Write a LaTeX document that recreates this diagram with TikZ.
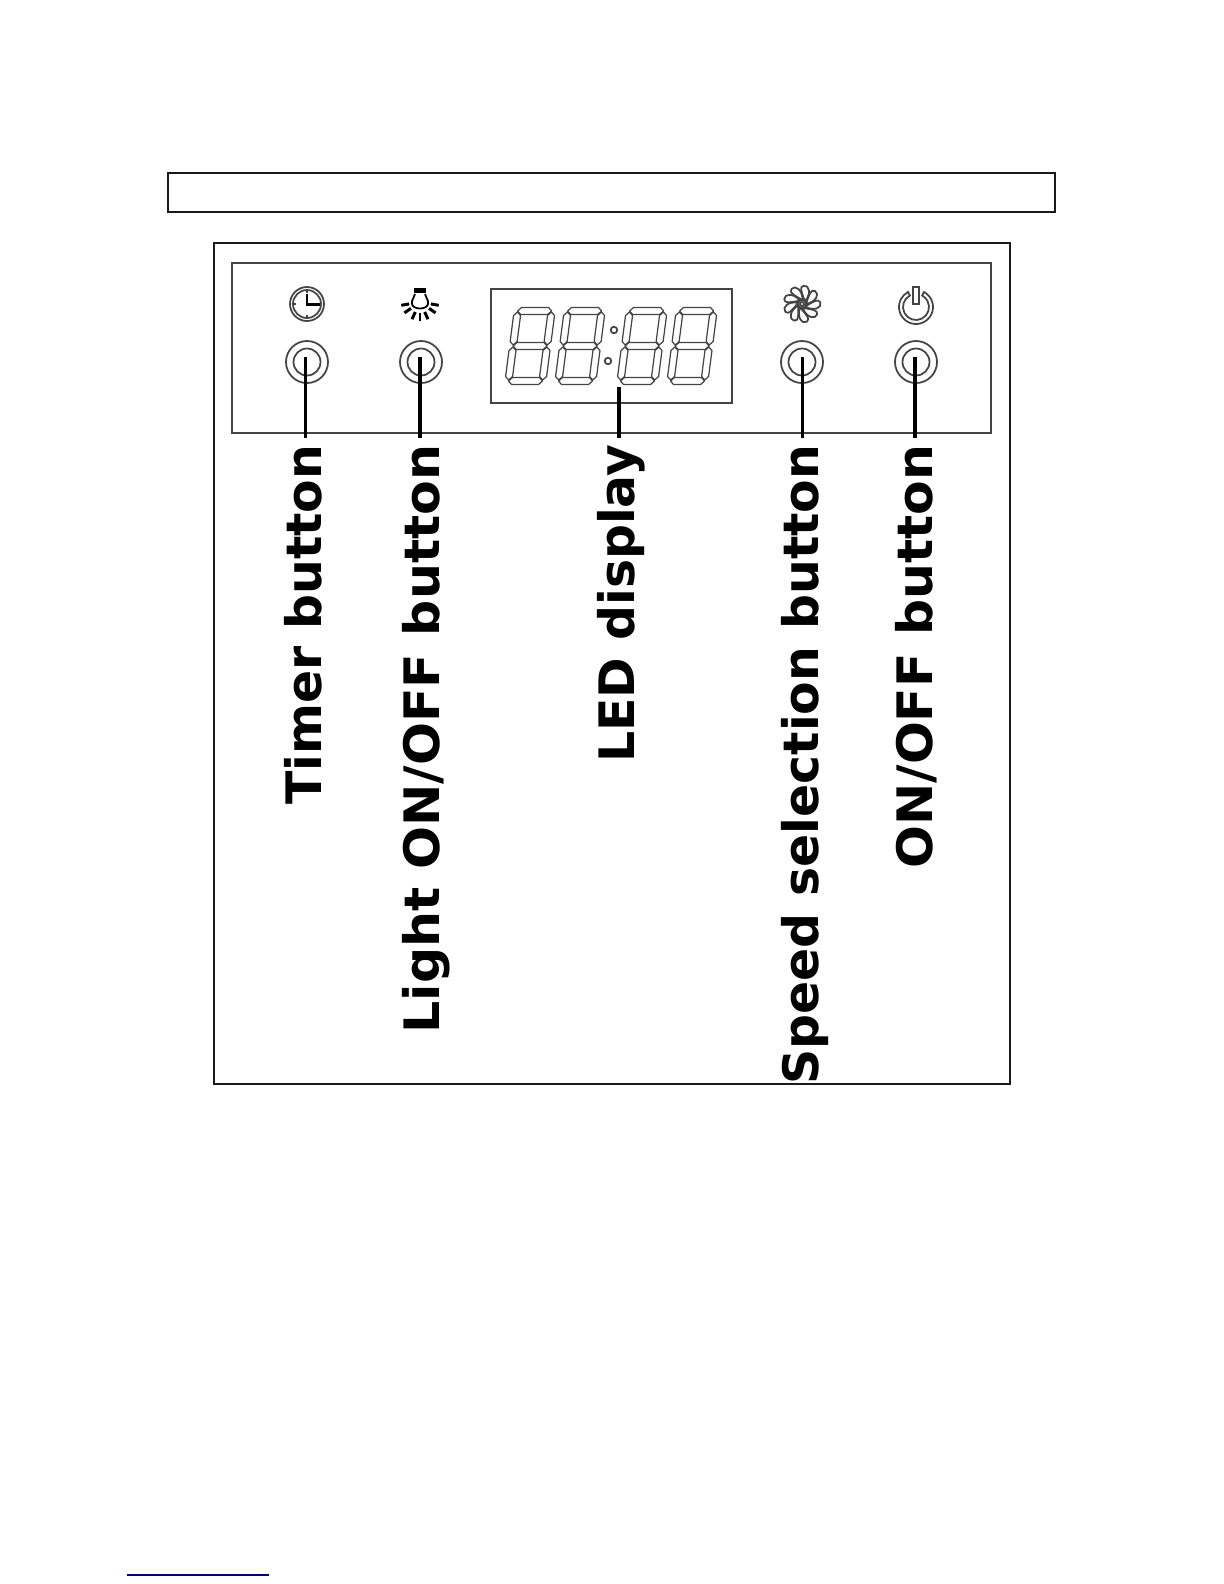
\documentclass[tikz,border=0pt]{standalone}
\usepackage{fontspec}
\setsansfont{DejaVu Sans}
\usetikzlibrary{calc}
\definecolor{cK}{HTML}{1a1a1a}
\definecolor{cG}{HTML}{444444}
\definecolor{cL}{HTML}{000080}
\tikzset{
  frame/.style={draw=cK,line width=.4pt},
  panel/.style={draw=cG,line width=.5pt},
  ring/.style={draw=cG,line width=.5pt},
  ledline/.style={draw=cG,line width=.35pt,line join=round},
  leader/.style={line width=.95pt,black},
  btn/.style={circle,ring,minimum size=.42cm,inner sep=0pt},
  lbl/.style={rotate=90,anchor=base east,inner xsep=.06cm,inner ysep=0pt,
              font=\fontsize{13.9}{14}\sffamily\bfseries},
  leddigit/.pic={
    \foreach \y in {3,38,73}{
      \draw[ledline] (3,-\y)--(6.5,-\y+3.5)--(33.5,-\y+3.5)--(37,-\y)--(33.5,-\y-3.5)--(6.5,-\y-3.5)--cycle;
    }
    \foreach \x/\y in {3/3,37/3,3/38,37/38}{
      \draw[ledline] (\x,-\y-1)--(\x+3.5,-\y-4.5)--(\x+3.5,-\y-30.5)--(\x,-\y-34)--(\x-3.5,-\y-30.5)--(\x-3.5,-\y-4.5)--cycle;
    }
  },
}
\begin{document}
\begin{tikzpicture}[x=.01cm,y=.01cm]
  \useasboundingbox (0,0) rectangle (1224,-1584);
  % boxes
  \draw[frame] (168,-173) rectangle (1055,-212);
  \draw[frame] (214,-243) rectangle (1010,-1084);
  \draw[panel] (232,-263) rectangle (991,-433);
  \draw[panel] (491,-289) rectangle (732,-403);
  % four buttons with their labels
  \foreach \n/\x/\lx/\bx/\t in {timer/307/305.5/321/Timer button,
      light/421/420/439/{\scalebox{1.035}[1]{Light ON/OFF button}},
      speed/802/802.5/818/Speed selection button,
      onoff/916/915/932/{\scalebox{1.032}[1]{ON/OFF button}}}{
     \node[btn] (\n btn) at (\x,-362){};
     \draw[ring] (\n btn.center) circle (13.5);
     \coordinate (\n tip) at (\lx,-357);
     \node[lbl] (\n lbl) at (\bx,-438) {\t};
     \draw[leader] (\n tip) -- (\n tip |- \n lbl.east);
  }
  % led display
  \foreach \i/\x in {1/515,2/565,3/627,4/677}{
     \pic[xslant=.13] (led\i) at (\x,-308) {leddigit};
  }
  \node[circle,ring,minimum size=.065cm,inner sep=0pt] (dotA) at (614,-330){};
  \node[circle,ring,minimum size=.065cm,inner sep=0pt] (dotB) at (608,-361){};
  \coordinate (ledtip) at (619,-387);
  \node[lbl] (ledlbl) at (634,-438) {LED display};
  \draw[leader] (ledtip) -- (ledtip |- ledlbl.east);
  % clock
  \draw[ring] (307,-304) circle (17);
  \draw[ring] (307,-304) circle (14);
  \draw[line width=.85pt] (307,-294) -- (307,-304) -- (320,-304);
  \foreach \a in {90,180,270}{
     \draw[ring] (307,-304) ++(\a:11) -- ++(\a:3);
  }
  % bulb
  \fill[black] (414,-288) rectangle (426,-293);
  \draw[line width=.5pt] (415,-294) .. controls (415,-298) and (411,-299) .. (412,-304)
     .. controls (413,-310) and (427,-310) .. (428,-304)
     .. controls (429,-299) and (425,-298) .. (425,-294);
  \foreach \a in {-10,-35,-65,-90,-115,-145,-170}{
     \draw[line width=.85pt] (420,-302) ++(\a:11) -- ++(\a:8);
  }
  % fan
  \foreach \a in {0,40,...,320}{
     \draw[ring,line join=round,rotate around={\a:(802,-304)}] (806,-304) .. controls (808,-298) and (811,-288) .. (815,-291)
        .. controls (820,-294) and (816,-302) .. (806,-304);
  }
  \draw[ring] (802,-304) circle (4);
  \draw[ring] (802,-304) circle (2);
  % power sign
  \draw[ring] (916,-307) ++(62:17) arc[start angle=62,end angle=-242,radius=17]
     -- ++(-62:4) arc[start angle=-242,end angle=62,radius=13] -- cycle;
  \draw[ring,fill=white] (913,-287) rectangle (919,-304);
  % link line at the foot
  \draw[cL,line width=.4pt] (127,-1575) -- (269,-1575);
\end{tikzpicture}
\end{document}
